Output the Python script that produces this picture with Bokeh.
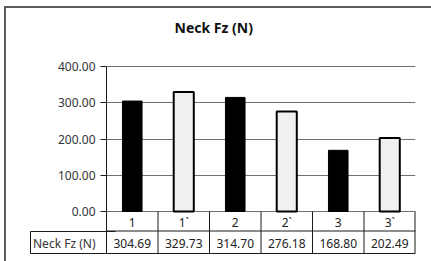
from bokeh.plotting import figure
from bokeh.models import (Range1d, FactorRange, FixedTicker, NumeralTickFormatter, LinearAxis,
                          Title)
from bokeh.core.properties import value
from bokeh.embed import file_html
from bokeh.resources import INLINE

# ---- data ----
categories = ["1", "1`", "2", "2`", "3", "3`"]
neck_fz = [304.69, 329.73, 314.70, 276.18, 168.80, 202.49]
y_ticks = [0, 100, 200, 300, 400]
series_name = "Neck Fz (N)"
title_text = "Neck Fz (N)"

FONT = "Noto Sans"

# ---- layout constants (page pixels) ----
OX, OY = 6, 8                      # canvas origin on the page
X0, UNIT = 106.0, 309.0 / 6.0      # left edge of first category, px per category
Y0, PPU = 211.0, 145.0 / 400.0     # pixel row of value 0, px per value unit


def yd(py):
    return (Y0 - py) / PPU


ROW_SPLIT = yd(230.5)
TABLE_BOTTOM = yd(253)
ROW1_MID = yd(221.5)
ROW2_MID = yd(242.5)

W, H = 431 - OX, 261 - OY
p = figure(
    width=W, height=H,
    x_range=FactorRange(factors=categories, range_padding=0, factor_padding=0),
    y_range=Range1d(yd(261), yd(65)),
    output_backend="svg", toolbar_location=None,
    min_border_left=int(X0) - OX, min_border_right=W - (415 - OX),
    min_border_top=65 - OY, min_border_bottom=0,
)
# outer chart-area frame: only its top and left edges fall inside the window
p.styles = {
    "outline": "2px solid #5c5c5c",
    "margin-left": "%dpx" % OX,
    "margin-top": "%dpx" % OY,
}
# spacer between frame and title (title sits outermost)
p.add_layout(Title(text=" ", text_font_size="1px", standoff=21), "above")
p.title.text = title_text
p.title.align = "left"
p.title.offset = 68
p.title.text_font = FONT
p.title.text_font_size = "14px"
p.title.text_font_style = "bold"
p.title.text_color = "#111111"
p.title.standoff = 10
p.outline_line_color = None
p.background_fill_color = "white"
p.border_fill_color = "white"
p.xaxis.visible = False
p.xgrid.visible = False

LC = "#1a1a1a"
ax = p.yaxis[0]
ax.ticker = FixedTicker(ticks=y_ticks + [ROW2_MID], minor_ticks=y_ticks)
ax.bounds = (TABLE_BOTTOM, 400)
ax.formatter = NumeralTickFormatter(format="0.00")
ax.major_label_overrides = {ROW2_MID: series_name}
ax.major_tick_out = 0
ax.major_tick_in = 0
ax.minor_tick_out = 6
ax.minor_tick_in = 0
ax.minor_tick_line_color = LC
ax.major_label_standoff = 5
ax.major_label_text_font = FONT
ax.major_label_text_font_size = "12px"
ax.major_label_text_color = "#333333"
ax.axis_line_color = LC

# header cell frame of the data table (left edge + top/bottom rules)
hdr = LinearAxis(
    ticker=FixedTicker(ticks=[ROW_SPLIT, TABLE_BOTTOM], minor_ticks=[]),
    bounds=(TABLE_BOTTOM, ROW_SPLIT),
    major_label_overrides={ROW_SPLIT: "", TABLE_BOTTOM: ""},
    major_tick_in=85, major_tick_out=0, minor_tick_line_color=None,
    axis_line_color=LC, major_tick_line_color=LC, major_label_standoff=0,
)
p.add_layout(hdr, "left")

p.ygrid.ticker = FixedTicker(ticks=y_ticks, minor_ticks=[])
p.ygrid.grid_line_color = "#707070"
p.ygrid.grid_line_width = 1

# ---- bars ----
p.vbar(x=categories[0::2], top=neck_fz[0::2], bottom=0, width=0.38,
       fill_color="black", line_color="black", line_width=1)
p.vbar(x=categories[1::2], top=neck_fz[1::2], bottom=0, width=0.39,
       fill_color="#f0f0f0", line_color="black", line_width=2)

# ---- data table under the chart ----
n = len(categories)
centers = [i + 0.5 for i in range(n)]
p.segment(x0=[0, 0], x1=[n, n], y0=[ROW_SPLIT, TABLE_BOTTOM], y1=[ROW_SPLIT, TABLE_BOTTOM],
          line_color=LC, line_width=1)
p.segment(x0=list(range(1, n)), x1=list(range(1, n)),
          y0=[TABLE_BOTTOM] * (n - 1), y1=[0] * (n - 1),
          line_color=LC, line_width=1)
p.segment(x0=[n], x1=[n], y0=[TABLE_BOTTOM], y1=[0], line_color=LC, line_width=2)

p.text(x=centers, y=[ROW1_MID] * n, text=categories,
       text_font=value(FONT), text_font_size="12px", text_color="#222222",
       text_align="center", text_baseline="middle")
p.text(x=centers, y=[ROW2_MID] * n, text=["%.2f" % v for v in neck_fz],
       text_font=value(FONT), text_font_size="12px", text_color="#222222",
       text_align="center", text_baseline="middle")

open("out.html", "w").write(file_html(p, INLINE))
